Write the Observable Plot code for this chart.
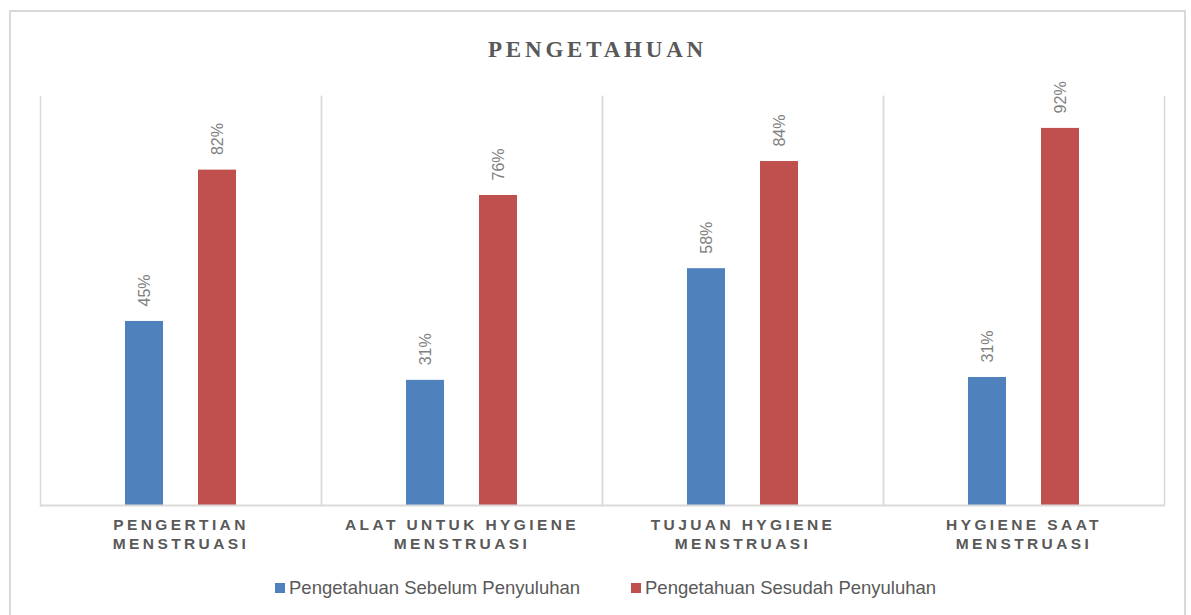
<!DOCTYPE html>
<html>
<head>
<meta charset="utf-8">
<script src="https://cdn.jsdelivr.net/npm/d3@7"></script>
<script src="https://cdn.jsdelivr.net/npm/@observablehq/plot@0.6"></script>
<style>
  html, body { margin: 0; padding: 0; background: #fff; }
  body { width: 1191px; height: 615px; position: relative; overflow: hidden; font-family: "Liberation Sans", Arial, sans-serif; }
  #frame { position: absolute; left: 9px; top: 10px; width: 1177px; height: 640px; border: 2px solid #d9d9d9; box-sizing: border-box; }
  #title { position: absolute; left: 0; width: 1191px; top: 38px; text-align: center; font-family: "Liberation Serif", "Times New Roman", serif; font-weight: bold; font-size: 23px; line-height: 23px; letter-spacing: 3.8px; color: #595959; padding-left: 4px; box-sizing: border-box; }
  #chart { position: absolute; left: 0; top: 0; }
  #chart g[aria-label="fx-axis tick label"] text { letter-spacing: 3.4px; font-weight: bold; font-size: 15.5px; }
  .leg { position: absolute; font-size: 18.5px; line-height: 18px; color: #595959; white-space: nowrap; top: 579px; }
  .sw { position: absolute; width: 10px; height: 10px; top: 583px; }
</style>
</head>
<body>
<div id="frame"></div>
<div id="title">PENGETAHUAN</div>
<div id="chart"></div>
<div id="legend"></div>
<script>
// Data
const categories = ["PENGERTIAN MENSTRUASI", "ALAT UNTUK HYGIENE MENSTRUASI", "TUJUAN HYGIENE MENSTRUASI", "HYGIENE SAAT MENSTRUASI"];
const tickLabels = ["PENGERTIAN\nMENSTRUASI", "ALAT UNTUK HYGIENE\nMENSTRUASI", "TUJUAN HYGIENE\nMENSTRUASI", "HYGIENE SAAT\nMENSTRUASI"];
const seriesNames = ["Pengetahuan Sebelum Penyuluhan", "Pengetahuan Sesudah Penyuluhan"];
const sebelum = [45, 30.6, 57.9, 31.3];
const sesudah = [82, 75.8, 84.1, 92.2];
const seriesColors = ["#4f81bd", "#c0504d"];

const rows = [];
categories.forEach((c, i) => {
  rows.push({category: c, series: seriesNames[0], value: sebelum[i]});
  rows.push({category: c, series: seriesNames[1], value: sesudah[i]});
});
const labelOf = new Map(categories.map((c, i) => [c, tickLabels[i]]));
const grid = "#d9d9d9";

const plot = Plot.plot({
  width: 1191,
  height: 560,
  marginLeft: 39,
  marginRight: 26,
  marginTop: 96,
  marginBottom: 55,
  style: {fontFamily: "'Liberation Sans', Arial, sans-serif", background: "transparent"},
  fx: {domain: categories, padding: 0, label: null, axis: null},
  x: {domain: seriesNames, paddingInner: 0.476, paddingOuter: 1.153, axis: null},
  y: {domain: [0, 100], axis: null},
  color: {domain: seriesNames, range: seriesColors},
  marks: [
    Plot.frame({anchor: "left", stroke: grid, strokeWidth: 1.5}),
    Plot.frame({anchor: "right", stroke: grid, strokeWidth: 1.5}),
    Plot.barY(rows, {fx: "category", x: "series", y: "value", fill: "series"}),
    Plot.ruleY([0], {stroke: grid, strokeWidth: 2}),
    Plot.text(rows, {
      fx: "category", x: "series", y: "value",
      text: d => Math.round(d.value) + "%",
      rotate: -90, textAnchor: "start", lineAnchor: "middle",
      dy: -15, fill: "#808080", fontSize: 16
    }),
    Plot.axisFx({
      anchor: "bottom", tickSize: 0, tickPadding: 11,
      tickFormat: d => labelOf.get(d),
      fontSize: 15.5, fill: "#595959", lineHeight: 1.22, fontWeight: "bold", label: null
    })
  ]
});
document.getElementById("chart").appendChild(plot);

// Legend
const legend = document.getElementById("legend");
const legX = [275, 631];
seriesNames.forEach((s, i) => {
  const sw = document.createElement("div");
  sw.className = "sw";
  sw.style.left = legX[i] + "px";
  sw.style.background = seriesColors[i];
  legend.appendChild(sw);
  const t = document.createElement("div");
  t.className = "leg";
  t.style.left = (legX[i] + 14) + "px";
  t.textContent = s;
  legend.appendChild(t);
});
</script>
</body>
</html>
